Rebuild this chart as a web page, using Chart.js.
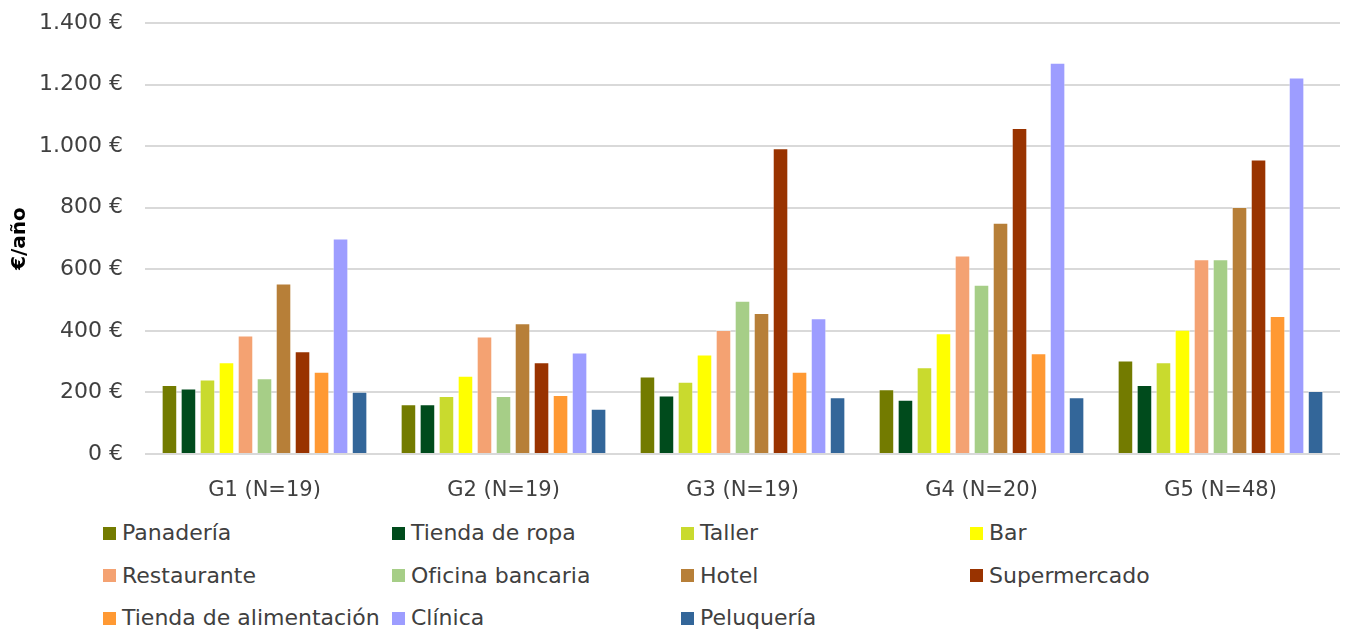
<!DOCTYPE html>
<html lang="es">
<head>
<meta charset="utf-8">
<title>€/año por grupo</title>
<script src="https://cdn.jsdelivr.net/npm/chart.js@4/dist/chart.umd.min.js"></script>
<style>
    html, body { margin: 0; padding: 0; background: #fff; }
    #wrap { position: relative; width: 1349px; height: 630px; font-family: "DejaVu Sans", sans-serif; color: #404040; }
    #chart-box { position: absolute; left: 0; top: 0; width: 1349px; height: 505px; }
    #legend {
        position: absolute; left: 103px; top: 512px;
        display: grid; grid-template-columns: repeat(4, 289px); grid-auto-rows: 42.5px;
        font-size: 22px; line-height: 42.5px;
    }
    #legend .item { display: flex; align-items: center; white-space: nowrap; }
    #legend .box { width: 13px; height: 13px; margin-right: 6px; flex: none; }
</style>
</head>
<body>
<div id="wrap">
    <div id="chart-box"><canvas id="chart"></canvas></div>
    <div id="legend"></div>
</div>
<script>
const groups = ['G1 (N=19)', 'G2 (N=19)', 'G3 (N=19)', 'G4 (N=20)', 'G5 (N=48)'];
const yTicks = [0, 200, 400, 600, 800, 1000, 1200, 1400];

const panaderia    = [224, 162, 252, 210, 304];
const tiendaRopa   = [213, 162, 190, 176, 224];
const taller       = [242, 188, 235, 282, 298];
const bar          = [298, 254, 323, 392, 404];
const restaurante  = [385, 382, 403, 645, 633];
const oficina      = [246, 188, 498, 550, 633];
const hotel        = [554, 425, 458, 751, 802];
const supermercado = [334, 298, 993, 1059, 957];
const tiendaAlim   = [267, 192, 267, 327, 448];
const clinica      = [700, 330, 441, 1271, 1223];
const peluqueria   = [202, 147, 184, 184, 205];

const series = [
    ['Panadería', panaderia, '#737b00'],
    ['Tienda de ropa', tiendaRopa, '#004b1c'],
    ['Taller', taller, '#c9da2e'],
    ['Bar', bar, '#ffff00'],
    ['Restaurante', restaurante, '#f4a272'],
    ['Oficina bancaria', oficina, '#a6ce87'],
    ['Hotel', hotel, '#b77f38'],
    ['Supermercado', supermercado, '#993300'],
    ['Tienda de alimentación', tiendaAlim, '#ff9933'],
    ['Clínica', clinica, '#9d9dff'],
    ['Peluquería', peluqueria, '#336699'],
];

function euro(v) {
    return String(v).replace(/\B(?=(\d{3})+(?!\d))/g, '.') + ' €';
}

const textColor = '#404040';
const gridColor = '#d9d9d9';

const chart = new Chart(document.getElementById('chart').getContext('2d'), {
    type: 'bar',
    data: {
        labels: groups,
        datasets: series.map(([label, data, color]) => ({
            label,
            data,
            backgroundColor: color,
            borderColor: 'rgba(255,255,255,0.45)',
            borderWidth: 1,
            categoryPercentage: 0.875,
            barPercentage: 0.82,
        })),
    },
    options: {
        responsive: true,
        maintainAspectRatio: false,
        animation: false,
        layout: { padding: { left: 0, right: 9, top: 0, bottom: 0 } },
        plugins: {
            legend: { display: false },
            tooltip: { enabled: false },
        },
        scales: {
            x: {
                grid: { display: false },
                border: { display: false },
                ticks: { color: textColor, font: { family: 'DejaVu Sans', size: 21 }, padding: 16 },
                afterFit(scale) { scale.height = 51; },
            },
            y: {
                min: 0,
                max: 1400,
                afterBuildTicks(scale) { scale.ticks = yTicks.map((v) => ({ value: v })); },
                ticks: {
                    color: textColor,
                    font: { family: 'DejaVu Sans', size: 22 },
                    padding: 22,
                    callback: (v) => euro(v),
                },
                grid: { color: gridColor, lineWidth: 2, drawTicks: false },
                border: { display: false },
                title: {
                    display: true,
                    text: '€/año',
                    color: '#000',
                    font: { family: 'DejaVu Sans', size: 20, weight: 'bold' },
                    padding: { top: 8, bottom: 0 },
                },
                afterFit(scale) {
                    scale.width = 145;
                    scale.paddingTop = 23;
                    scale.paddingBottom = 0;
                },
            },
        },
    },
});

const legend = document.getElementById('legend');
chart.data.datasets.forEach((ds) => {
    const item = document.createElement('div');
    item.className = 'item';
    const box = document.createElement('span');
    box.className = 'box';
    box.style.background = ds.backgroundColor;
    const txt = document.createElement('span');
    txt.textContent = ds.label;
    item.appendChild(box);
    item.appendChild(txt);
    legend.appendChild(item);
});
</script>
</body>
</html>
